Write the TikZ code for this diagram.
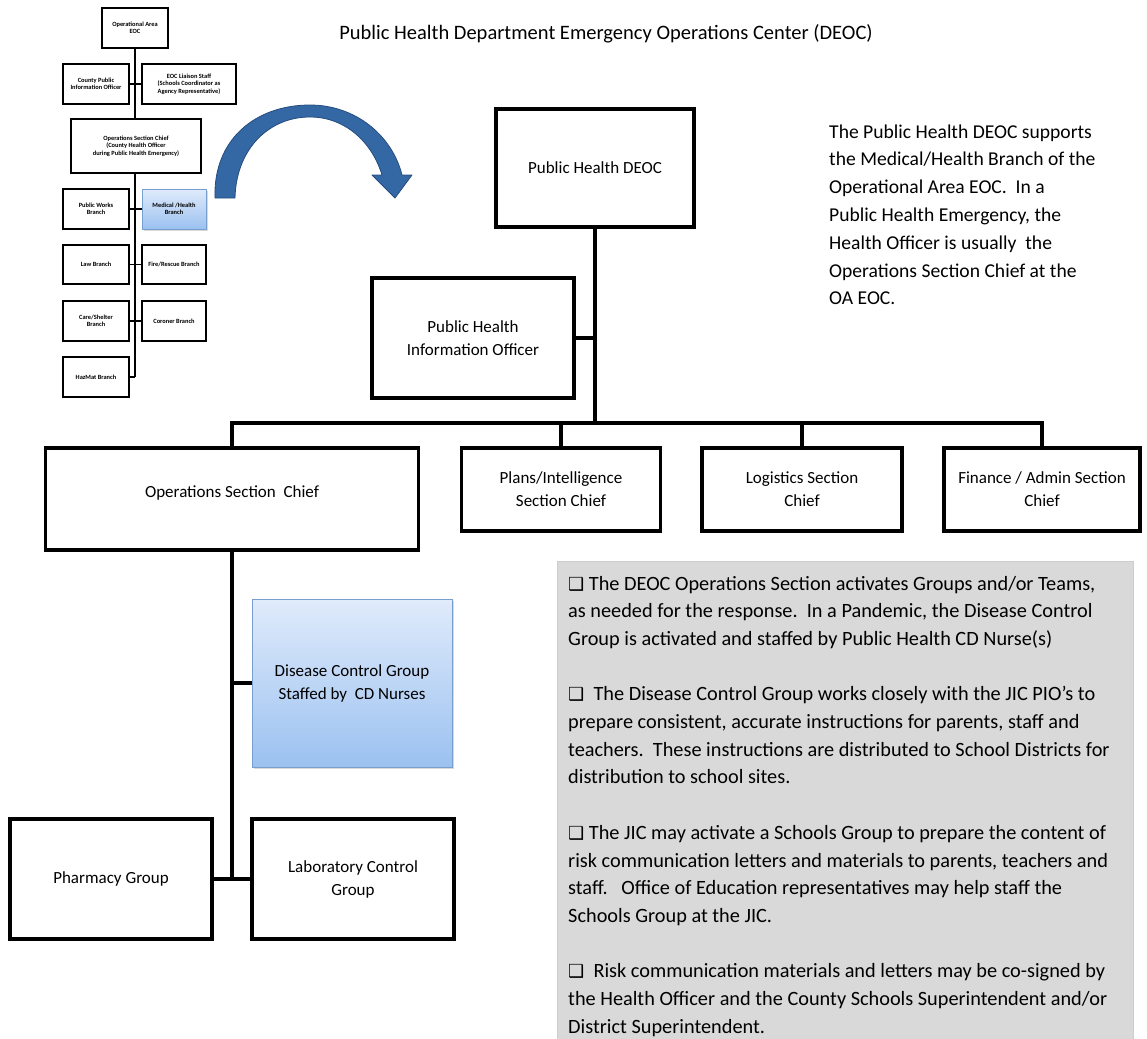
\documentclass[tikz,border=0pt]{standalone}
\usepackage{fontspec}
\setmainfont{Carlito}
\newfontfamily\djv{DejaVu Sans}
\usetikzlibrary{shadows}
\definecolor{arrowblue}{RGB}{52,104,165}
\definecolor{arrowedge}{RGB}{37,76,125}
\definecolor{lightblueT}{RGB}{224,235,251}
\definecolor{lightblueB}{RGB}{155,193,240}
\definecolor{blueedge}{RGB}{120,158,206}
\definecolor{panelgray}{RGB}{217,217,217}
\newcommand{\bx}{{\djv\fontsize{18}{18}\selectfont ❑}}
\begin{document}
\begin{tikzpicture}[x=1pt,y=-1pt,
  mainbox/.style={draw=black, line width=3.5pt, fill=white, align=center,
    font=\fontsize{17}{23}\selectfont, inner sep=2pt},
  smallbox/.style={draw=black, line width=1.5pt, fill=white, align=center,
    font=\fontsize{6.4}{7.4}\selectfont\bfseries, inner sep=1pt},
  bluebox/.style={draw=blueedge, line width=1pt, top color=lightblueT, bottom color=lightblueB,
    drop shadow={shadow xshift=1.5pt, shadow yshift=-2pt, opacity=0.3}},
  conn/.style={line width=3.5pt},
  sconn/.style={line width=1.5pt},
  txt/.style={anchor=base west, inner sep=0pt, font=\fontsize{20.3}{24}\selectfont},
  rtxt/.style={anchor=base west, inner sep=0pt, font=\fontsize{19.6}{24}\selectfont}
]
\useasboundingbox (0,0) rectangle (1147,1038);

% title
\node[anchor=base, inner sep=0pt, font=\fontsize{20.5}{24}\selectfont] (title) at (606,40)
  {Public Health Department Emergency Operations Center (DEOC)};

% ---------- small org chart ----------
\node[smallbox, minimum width=66pt, minimum height=40pt] (oaeoc) at (135,28) {Operational Area\\EOC};
\node[smallbox, minimum width=66pt, minimum height=40pt] (cpio) at (96,84) {County Public\\Information Officer};
\node[smallbox, minimum width=94pt, minimum height=40pt] (liaison) at (189,84) {EOC Liaison Staff\\(Schools Coordinator as\\Agency Representative)};
\node[smallbox, minimum width=130pt, minimum height=54pt] (osc) at (136,146) {Operations Section Chief\\(County Health Officer\\during Public Health Emergency)};
\node[smallbox, minimum width=66pt, minimum height=40pt] (pw) at (96,209) {Public Works\\Branch};
\node[smallbox, bluebox, line width=1pt, minimum width=64pt, minimum height=40pt] (med) at (174,209) {Medical /Health\\Branch};
\node[smallbox, minimum width=66pt, minimum height=39pt] (law) at (96,264.5) {Law Branch};
\node[smallbox, minimum width=64pt, minimum height=39pt] (fire) at (174,264.5) {Fire/Rescue Branch};
\node[smallbox, minimum width=66pt, minimum height=40pt] (care) at (96,321) {Care/Shelter\\Branch};
\node[smallbox, minimum width=64pt, minimum height=40pt] (coroner) at (174,321) {Coroner Branch};
\node[smallbox, minimum width=66pt, minimum height=40pt] (hazmat) at (96,377) {HazMat Branch};
\coordinate (spineEnd) at (135,377);
\draw[sconn] (oaeoc.south) -- (cpio.east -| oaeoc.south);
\draw[sconn] (cpio.east) -- (liaison.west);
\draw[sconn] (cpio.east -| oaeoc.south) -- (osc.north -| oaeoc.south);
\draw[sconn] (osc.south -| oaeoc.south) -- (spineEnd);
\draw[sconn] (pw.east) -- (med.west);
\draw[sconn] (law.east) -- (fire.west);
\draw[sconn] (care.east) -- (coroner.west);
\draw[sconn] (hazmat.east) -- (spineEnd);

% ---------- curved arrow ----------
\filldraw[fill=arrowblue, draw=arrowedge, line width=0.8pt, line join=round]
  (215,198) .. controls (213,140) and (255,105) .. (310,105)
  .. controls (355,105) and (392,135) .. (402,175)
  -- (412,175) -- (395,198) -- (372,175) -- (382,175)
  .. controls (372,142) and (345,117) .. (310,117)
  .. controls (268,117) and (236,150) .. (235,198) -- cycle;

% ---------- right description ----------
\foreach \i/\t in {0/{The Public Health DEOC supports},
                   1/{the Medical/Health Branch of the},
                   2/{Operational Area EOC.\ \ In a},
                   3/{Public Health Emergency, the},
                   4/{Health Officer is usually\ \ the},
                   5/{Operations Section Chief at the},
                   6/{OA EOC.}}
  \node[rtxt] (r\i) at (829,138+27.8*\i) {\t};

% ---------- main chart ----------
\node[mainbox, minimum width=198pt, minimum height=118pt] (deoc) at (595,168) {Public Health DEOC};
\node[mainbox, minimum width=202pt, minimum height=120pt] (pio) at (473,338) {Public Health\\Information Officer};
\coordinate (busL) at (232,423);
\coordinate (busR) at (1042,423);
\node[mainbox, minimum width=373pt, minimum height=102pt] (ops) at (232,499) {\raisebox{14pt}{Operations Section\ \ Chief}};
\node[mainbox, minimum width=199pt, minimum height=83pt] (plans) at (561,489.5) {Plans/Intelligence\\Section Chief};
\node[mainbox, minimum width=200pt, minimum height=83pt] (logi) at (802,489.5) {Logistics Section\\Chief};
\node[mainbox, minimum width=196pt, minimum height=83pt] (fin) at (1042,489.5) {Finance / Admin Section\\Chief};

\draw[conn] (deoc.south) -- (deoc.south |- busL);
\draw[conn] (pio.east) -- (pio.east -| deoc.south);
\draw[conn, line cap=rect] (busL) -- (busR);
\draw[conn] (busL) -- (ops.north);
\draw[conn] (plans.north |- busL) -- (plans.north);
\draw[conn] (logi.north |- busL) -- (logi.north);
\draw[conn] (busR) -- (fin.north);

% ---------- operations sub-groups ----------
\node[bluebox, align=center, font=\fontsize{17}{23}\selectfont, minimum width=200pt, minimum height=168pt] (dcg) at (352,683)
  {Disease Control Group\\Staffed by\ \ CD Nurses};
\node[mainbox, minimum width=202pt, minimum height=120pt] (pharm) at (111,879) {Pharmacy Group};
\node[mainbox, minimum width=202pt, minimum height=120pt] (lab) at (353,879) {Laboratory Control\\Group};
\coordinate (opsEnd) at (232,879);
\draw[conn] (ops.south) -- (opsEnd);
\draw[conn] (dcg.west) -- (dcg.west -| ops.south);
\draw[conn] (pharm.east) -- (lab.west);

% ---------- grey notes panel ----------
\node[fill=panelgray, draw={rgb,255:red,205;green,205;blue,205}, line width=0.6pt, minimum width=576pt, minimum height=478pt,
  anchor=north west, inner sep=0pt] (panel) at (557,561) {};
\foreach \i/\t in {0/{\bx\ The DEOC Operations Section activates Groups and/or Teams,},
                   1/{as needed for the response.\ \ In a Pandemic, the Disease Control},
                   2/{Group is activated and staffed by Public Health CD Nurse(s)},
                   4/{\bx\ \ The Disease Control Group works closely with the JIC PIO’s to},
                   5/{prepare consistent, accurate instructions for parents, staff and},
                   6/{teachers.\ \ These instructions are distributed to School Districts for},
                   7/{distribution to school sites.},
                   9/{\bx\ The JIC may activate a Schools Group to prepare the content of},
                   10/{risk communication letters and materials to parents, teachers and},
                   11/{staff.\ \ \ Office of Education representatives may help staff the},
                   12/{Schools Group at the JIC.},
                   14/{\bx\ \ Risk communication materials and letters may be co-signed by},
                   15/{the Health Officer and the County Schools Superintendent and/or},
                   16/{District Superintendent.}}
  \node[txt] (g\i) at (568,590+27.7*\i) {\t};
\end{tikzpicture}
\end{document}
